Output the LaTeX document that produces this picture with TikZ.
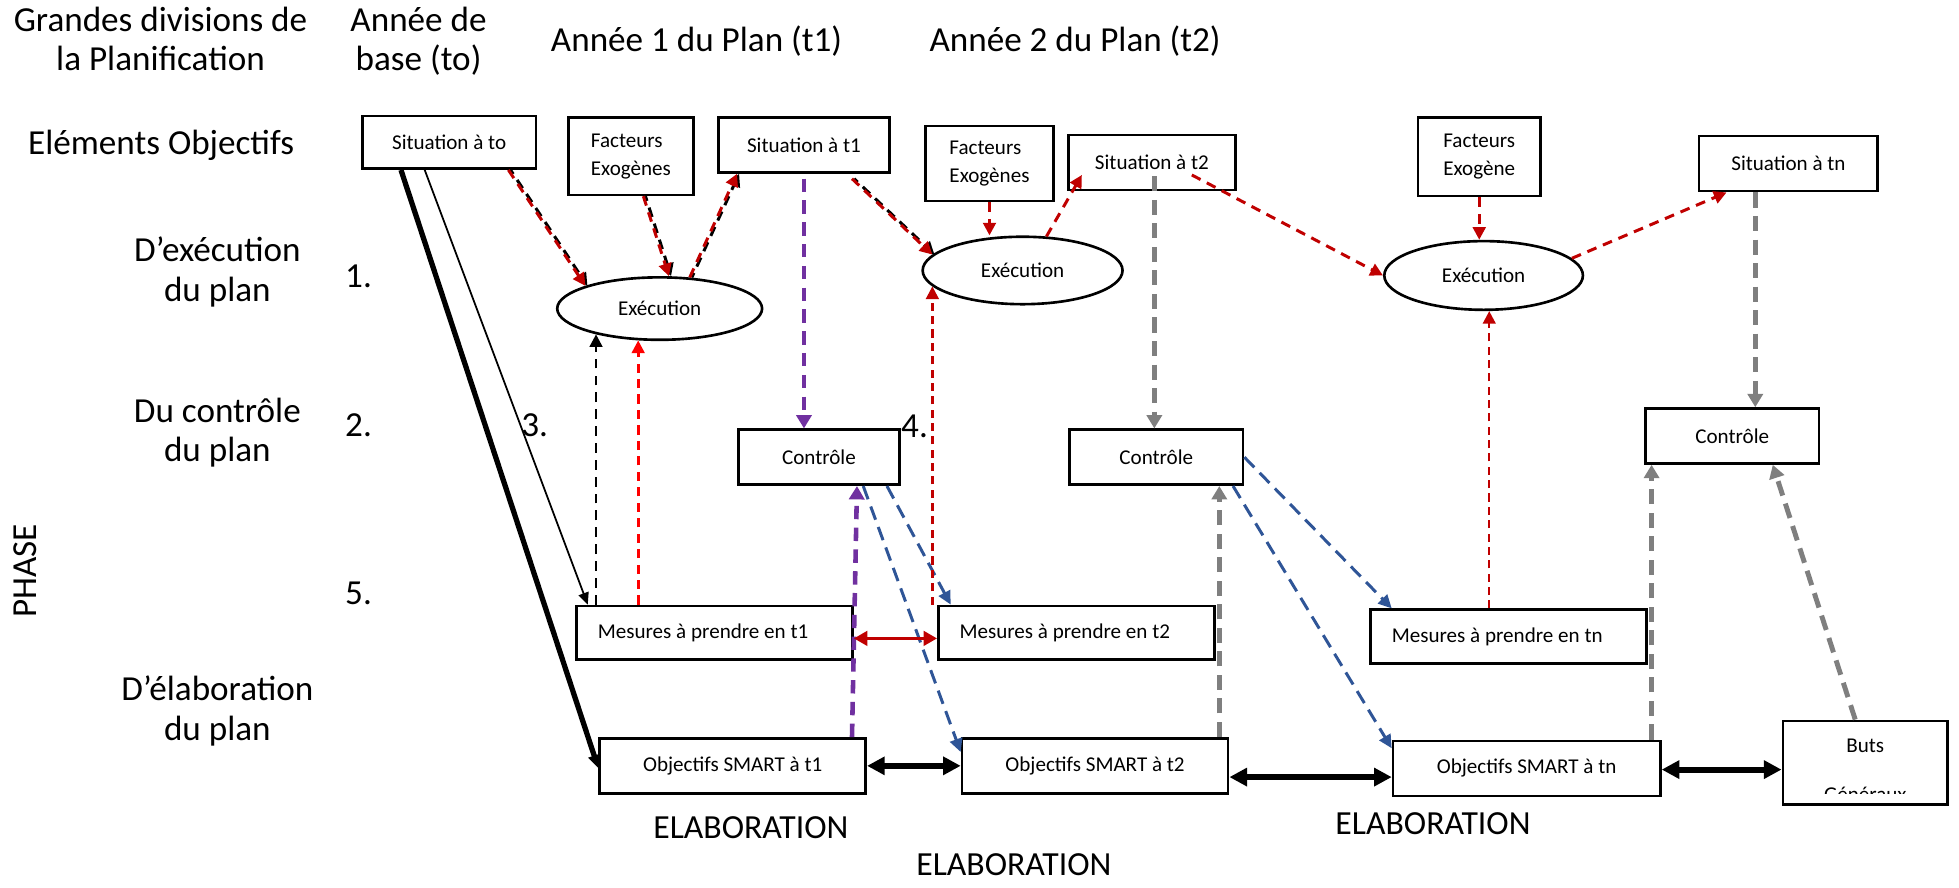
\documentclass[tikz,border=0pt]{standalone}
\usepackage{fontspec}
\setmainfont{Carlito}
\usetikzlibrary{arrows.meta,shapes.geometric,calc}

\definecolor{dred}{HTML}{C00000}
\definecolor{bred}{HTML}{FF0000}
\definecolor{purp}{HTML}{7030A0}
\definecolor{blu}{HTML}{2F5597}
\definecolor{gry}{HTML}{7F7F7F}

\newcommand\lblsize{\fontsize{10}{11.2}\selectfont}
\newcommand\boxsize{\fontsize{6}{8}\selectfont}
\newcommand\elabsize{\fontsize{9.6}{11}\selectfont}
\newcommand\deuxl[2]{\begin{tabular}[t]{@{}c@{}}#1\\#2\end{tabular}}

\begin{document}
\begin{tikzpicture}[
  x=0.0125cm, y=-0.0125cm,
  bx/.style 2 args={minimum width=#1*0.0125cm, minimum height=#2*0.0125cm},
  box/.style={draw, line width=0.75pt, inner sep=0pt, font=\boxsize},
  mes/.style={box, bx={221}{43}, text width=187*0.0125cm, align=flush left},
  oval/.style={ellipse, draw, line width=0.75pt, inner sep=0pt, font=\boxsize},
  lbl/.style={font=\lblsize, inner sep=0pt, anchor=base},
  elab/.style={font=\elabsize, inner sep=0pt, anchor=base},
  tipS/.style={-{Triangle[length=3.6pt,width=3.6pt]}},
  rdash/.style={dred, line width=0.85pt, dash pattern=on 2.8pt off 2pt, tipS},
  kunder/.style={black, line width=0.85pt, dash pattern=on 2.8pt off 2pt,
    dash phase=1.4pt, tipS, transform canvas={xshift=0.6pt}},
  rthin/.style={dred, line width=0.7pt, dash pattern=on 2.3pt off 1.5pt, tipS},
  brdash/.style={bred, line width=0.75pt, dash pattern=on 2.6pt off 1.8pt, tipS},
  kdash/.style={black, line width=0.75pt, dash pattern=on 2.8pt off 2pt, tipS},
  purdash/.style={purp, line width=1.3pt, dash pattern=on 3.8pt off 2.4pt,
    -{Triangle[length=3.8pt,width=4.3pt]}},
  grydash/.style={gry, line width=1.4pt, dash pattern=on 4.3pt off 2.4pt,
    -{Triangle[length=3.8pt,width=4.3pt]}},
  bludash/.style={blu, line width=0.85pt, dash pattern=on 4pt off 2.2pt,
    -{Triangle[length=3.8pt,width=3.6pt]}},
  rdbl/.style={dred, line width=0.65pt,
    {Triangle[length=3.8pt,width=4.2pt]}-{Triangle[length=3.8pt,width=4.2pt]}},
  kdbl/.style={black, line width=1.7pt,
    {Triangle[length=5pt,width=5pt]}-{Triangle[length=5pt,width=5pt]}},
  kthick/.style={black, line width=1.5pt, -{Triangle[length=3.8pt,width=3.4pt]}},
  kthin/.style={black, line width=0.5pt, -{Triangle[length=3.4pt,width=3pt]}}
]
\useasboundingbox (0,0) rectangle (1568,710);

% ---- row and column headings ----
\node[lbl] (hdiv)  at (128.5,25.3) {\deuxl{Grandes divisions de}{la Planification}};
\node[lbl] (hbase) at (335,25.3)   {\deuxl{Année de}{base (to)}};
\node[lbl] (han1)  at (557.5,41.5) {Année 1 du Plan (t1)};
\node[lbl] (han2)  at (860.5,41.5) {Année 2 du Plan (t2)};
\node[lbl] (lelem) at (129,124)    {Eléments Objectifs};
\node[lbl] (lexec) at (174,209.5)  {\deuxl{D’exécution}{du plan}};
\node[lbl] (lctrl) at (174,338)    {\deuxl{Du contrôle}{du plan}};
\node[lbl] (lelab) at (174,561)    {\deuxl{D’élaboration}{du plan}};
\node[lbl] (num1) at (287,230)   {1.};
\node[lbl] (num2) at (287,349)   {2.};
\node[lbl] (num3) at (428,349)   {3.};
\node[lbl] (num4) at (732,350)   {4.};
\node[lbl] (num5) at (287,484)   {5.};
\node[font=\lblsize, inner sep=0pt, rotate=90] (phase) at (20,457) {PHASE};
\node[elab] (elab1) at (601,671)   {ELABORATION};
\node[elab] (elab2) at (811.5,701) {ELABORATION};
\node[elab] (elab3) at (1147,668)  {ELABORATION};

% ---- objective elements ----
\node[box, bx={139}{42}] (sto) at (359.5,114) {Situation à to};
\node[box, bx={100}{62}, align=left] (fe1) at (505,125) {Facteurs\\Exogènes};
\node[box, bx={137}{44}] (st1) at (643.5,116) {Situation à t1};
\node[box, bx={102}{60}, align=left] (fe2) at (792,131) {Facteurs\\Exogènes};
\node[box, bx={134}{44}] (st2) at (922,130) {Situation à t2};
\node[box, bx={98}{63}, align=left] (fe3) at (1184,125.5) {Facteurs\\Exogène};
\node[box, bx={143}{44}] (stn) at (1431.5,131) {Situation à tn};

% ---- execution ----
\node[oval, bx={164}{50}] (e1) at (528,247) {Exécution};
\node[oval, bx={160}{54}] (e2) at (818.5,216.5) {Exécution};
\node[oval, bx={159}{55}] (e3) at (1187.5,220.5) {Exécution};

% ---- control ----
\node[box, bx={129}{44}] (c1) at (655.5,366) {Contrôle};
\node[box, bx={139}{44}] (c2) at (925.5,366) {Contrôle};
\node[box, bx={139}{44}] (c3) at (1386.5,349) {Contrôle};

% ---- measures ----
\node[mes] (m1) at (572,506.5)    {Mesures à prendre en t1};
\node[mes] (m2) at (861.5,506.5)  {Mesures à prendre en t2};
\node[mes] (mn) at (1207.5,509.5) {Mesures à prendre en tn};

% ---- elaboration ----
\node[box, bx={213}{44}] (o1) at (586.5,613) {Objectifs SMART à t1};
\node[box, bx={213}{44}] (o2) at (876.5,613) {Objectifs SMART à t2};
\node[box, bx={214}{44}] (on) at (1222,615)  {Objectifs SMART à tn};
\node[box, bx={132}{67}] (buts) at (1493,610.5) {};
\node[font=\boxsize, inner sep=0pt, anchor=base] (butsa) at (1493,602) {Buts};
\begin{scope}
  \clip (1427,577) rectangle (1559,635.5);
  \node[font=\boxsize, inner sep=0pt, anchor=base] (butsb) at (1493,641.5) {Généraux};
\end{scope}

% ---- base year links ----
\draw[kthick] ($(sto.south west)+(32,0)$) -- ($(o1.west)+(0,2)$);
\draw[kthin]  ($(sto.south west)+(51,0)$) -- ($(m1.north west)+(10,0)$);

% ---- year 1 execution loop ----
\draw[kunder] ($(sto.south west)+(118,0)$) -- (e1.163);
\draw[rdash]  ($(sto.south west)+(118,0)$) -- (e1.163);
\draw[kunder] ($(fe1.south west)+(61,0)$) -- (e1.74);
\draw[rdash]  ($(fe1.south west)+(61,0)$) -- (e1.74);
\draw[kunder] (e1.46) -- ($(st1.south west)+(16,0)$);
\draw[rdash]  (e1.46) -- ($(st1.south west)+(16,0)$);
\draw[kdash]  (e1.202 |- m1.north) -- (e1.202);
\draw[brdash] (e1.236 |- m1.north) -- (e1.236);

% ---- year 1 control ----
\draw[purdash] ($(st1.south)+(0,4)$) -- (st1.south |- c1.north);
\draw[purdash] ($(o1.north west)+(203,0)$) -- ($(c1.south west)+(96,0)$);
\draw[bludash] ($(c1.south west)+(101,0)$) -- ($(o2.north west)+(0,12)$);
\draw[bludash] ($(c1.south west)+(120,0)$) -- ($(m2.north west)+(11,0)$);
\draw[rdbl] ($(m1.east)+(0,4.5)$) -- ($(m2.west)+(0,4.5)$);

% ---- year 2 execution loop ----
\draw[kunder] ($(st1.south west)+(108,4)$) -- (e2.170);
\draw[rdash]  ($(st1.south west)+(108,4)$) -- (e2.170);
\draw[rdash]  (fe2.south) -- (fe2.south |- e2.north);
\draw[rdash]  (e2.55) -- ($(st2.south west)+(12,-13)$);
\draw[rthin]  (e2.190 |- m2.north) -- (e2.190);

% ---- year 2 control ----
\coordinate (g1) at ($(st2.south west)+(70,-12)$);
\coordinate (g2) at ($(o2.north west)+(207,0)$);
\draw[grydash] (g1) -- (g1 |- c2.north);
\draw[grydash] (g2) -- (g2 |- c2.south);
\draw[bludash] (c2.east) -- ($(mn.north west)+(18,0)$);
\draw[bludash] ($(c2.south west)+(132,0)$) -- ($(on.north west)+(0,7)$);

% ---- year n execution loop ----
\draw[rdash] ($(st2.south west)+(100,-13)$) -- (e3.west);
\draw[rdash] (fe3.south) -- (fe3.south |- e3.north);
\draw[rdash] (e3.11) -- ($(stn.south west)+(23,0)$);
\draw[rthin] (e3.279 |- mn.north) -- (e3.279);

% ---- year n control ----
\coordinate (g3) at ($(stn.south west)+(46,0)$);
\coordinate (g4) at ($(on.north west)+(208,0)$);
\draw[grydash] (g3) -- (g3 |- c3.north);
\draw[grydash] (g4) -- (g4 |- c3.south);
\draw[grydash] ($(buts.north west)+(59,0)$) -- ($(c3.south west)+(103,0)$);

% ---- elaboration chain ----
\draw[kdbl] (o1.east) -- (o2.west);
\draw[kdbl] ($(o2.east)+(0,9)$) -- ($(on.west)+(0,7)$);
\draw[kdbl] ($(on.east)+(0,1)$) -- ($(buts.west)+(0,5.5)$);
\end{tikzpicture}
\end{document}
